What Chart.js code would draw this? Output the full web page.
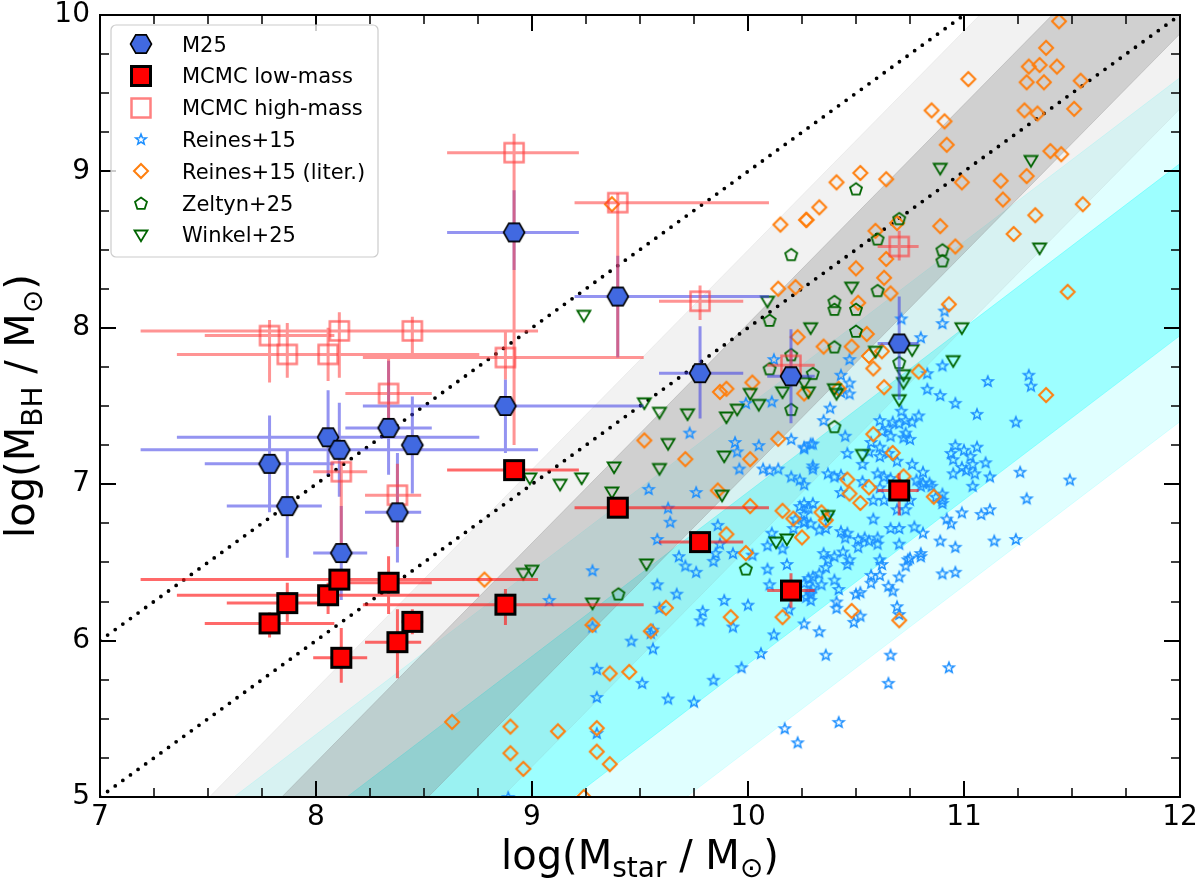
<!DOCTYPE html>
<html><head><meta charset="utf-8">
<script src="https://cdn.jsdelivr.net/npm/chart.js@4.4.1/dist/chart.umd.min.js"></script>
<style>html,body{margin:0;padding:0;background:#fff;}canvas{display:block;}</style>
</head><body>
<canvas id="c" width="1200" height="887"></canvas>
<script>
// ---------------- DATA ----------------
const xMajorTicks = [7, 8, 9, 10, 11, 12];
const xMinorTicks = [7.25, 7.5, 7.75, 8.25, 8.5, 8.75, 9.25, 9.5, 9.75, 10.25, 10.5, 10.75, 11.25, 11.5, 11.75];
const yMajorTicks = [5, 6, 7, 8, 9, 10];
const yMinorTicks = [5.25, 5.5, 5.75, 6.25, 6.5, 6.75, 7.25, 7.5, 7.75, 8.25, 8.5, 8.75, 9.25, 9.5, 9.75];

// 14 galaxies: stellar mass and its errors
const galaxyLogMstar = [7.785, 7.867, 8.056, 8.108, 8.117, 8.336, 8.377, 8.446, 8.877, 8.917, 9.397, 9.778, 10.199, 10.70];
const mstarErrLo     = [0.30, 0.28, 0.70, 0.92, 0.13, 0.20, 0.15, 0.05, 0.66, 0.31, 0.20, 0.19, 0.11, 0.10];
const mstarErrHi     = [0.30, 0.16, 0.70, 0.92, 0.12, 0.20, 0.11, 0.05, 0.64, 0.30, 0.70, 0.20, 0.11, 0.09];

const m25LogMbh = [7.13, 6.86, 7.30, 7.22, 6.56, 7.36, 6.82, 7.25, 7.50, 8.61, 8.20, 7.71, 7.69, 7.90];
const m25ErrLo  = [0.31, 0.33, 0.24, 0.30, 0.30, 0.30, 0.32, 0.31, 0.30, 0.24, 0.39, 0.29, 0.30, 0.36];
const m25ErrHi  = [0.31, 0.36, 0.30, 0.30, 0.30, 0.43, 0.38, 0.31, 0.17, 0.27, 0.26, 0.30, 0.30, 0.30];

const lowMassLogMbh = [6.11, 6.24, 6.29, 6.39, 5.89, 6.37, 5.99, 6.12, 6.23, 7.09, 6.85, 6.63, 6.32, 6.96];
const lowErrLo      = [0.09, 0.12, 0.12, 0.05, 0.16, 0.20, 0.23, 0.08, 0.13, 0.05, 0.05, 0.05, 0.11, 0.16];
const lowErrHi      = [0.07, 0.13, 0.08, 0.05, 0.19, 0.17, 0.21, 0.08, 0.10, 0.05, 0.05, 0.05, 0.11, 0.11];

const highMassLogMbh = [7.95, 7.83, 7.83, 7.98, 7.08, 7.58, 6.93, 7.98, 7.81, 9.12, 8.80, 8.17, 7.76, 8.52];
const highErrLo      = [0.30, 0.15, 0.17, 0.30, 0.50, 0.22, 0.33, 0.16, 0.14, 1.87, 0.98, 0.12, 0.10, 0.09];
const highErrHi      = [0.10, 0.20, 0.17, 0.12, 0.06, 0.22, 0.20, 0.09, 0.16, 0.12, 0.06, 0.10, 0.10, 0.10];

const reines15 = [
[10.71,8.06],[10.90,8.03],[10.80,7.94],[10.47,7.80],[10.90,7.76],[10.83,7.71],[10.43,7.70],[10.47,7.65],[10.43,7.59],[10.47,7.58],
[10.83,7.61],[10.89,7.57],[10.96,7.52],[11.11,7.66],[11.30,7.70],[11.31,7.63],[11.06,7.45],[11.24,7.40],[10.38,7.49],[10.71,7.47],
[10.35,7.41],[10.61,7.41],[10.67,7.40],[10.70,7.39],[10.73,7.41],[10.79,7.44],[10.76,7.40],[10.65,7.36],[10.62,7.34],[10.66,7.31],
[10.73,7.33],[10.75,7.29],[10.72,7.30],[10.45,7.31],[10.30,7.26],[10.26,7.24],[10.57,7.27],[10.61,7.24],[10.56,7.21],[10.65,7.20],
[10.61,7.18],[10.46,7.20],[10.53,7.13],[10.69,7.15],[10.76,7.13],[10.81,7.08],[10.96,7.25],[11.00,7.22],[10.94,7.20],[10.95,7.16],
[11.06,7.24],[11.03,7.18],[11.04,7.13],[11.10,7.14],[10.99,7.11],[11.01,7.09],[10.95,7.07],[11.05,7.07],[11.12,7.05],[11.04,6.99],
[11.26,7.08],[11.49,7.03],[11.29,6.91],[11.14,6.64],[11.24,6.65],[11.12,6.84],[11.08,6.81],[10.99,6.82],[10.92,6.78],[10.94,6.75],
[10.90,6.90],[10.87,6.92],[10.90,6.88],[10.84,7.01],[10.85,6.99],[10.81,7.01],[10.78,7.03],[10.80,6.99],[10.90,6.94],[10.30,7.12],
[10.37,7.07],[10.43,7.06],[10.40,7.05],[10.53,7.02],[10.60,7.07],[10.63,7.05],[10.66,7.04],[10.43,6.95],[10.58,6.90],[10.63,6.90],
[10.75,6.90],[10.73,6.84],[10.69,6.84],[10.61,6.98],[10.26,7.00],[10.26,6.88],[10.26,6.81],[10.26,6.76],[10.37,6.80],[10.36,6.72],
[10.43,6.70],[10.46,6.69],[10.45,6.66],[10.51,6.65],[10.54,6.66],[10.56,6.64],[10.60,6.66],[10.60,6.62],[10.66,6.72],[10.70,6.72],
[10.77,6.73],[10.81,6.69],[10.70,6.62],[10.89,6.64],[10.96,6.60],[10.58,6.78],[10.29,6.75],[10.33,6.71],[10.35,6.56],[10.37,6.52],
[10.40,6.54],[10.36,6.47],[10.33,6.43],[10.30,6.41],[10.26,6.37],[10.34,6.36],[10.40,6.39],[10.44,6.57],[10.47,6.52],[10.46,6.49],
[10.51,6.60],[10.61,6.52],[10.62,6.49],[10.57,6.42],[10.61,6.42],[10.57,6.37],[10.50,6.30],[10.52,6.31],[10.42,6.33],[10.65,6.35],
[10.67,6.32],[10.70,6.41],[10.74,6.52],[10.75,6.53],[10.80,6.56],[10.80,6.54],[10.73,6.48],[10.90,6.43],[10.96,6.44],[10.41,6.25],
[10.41,6.21],[10.49,6.12],[10.52,6.16],[10.69,6.22],[10.70,6.17],[10.26,6.11],[10.33,6.06],[10.36,5.91],[10.66,5.91],[10.93,5.83],
[10.65,5.73],[10.30,6.34],[10.29,6.30],[10.27,6.28],[10.91,8.11],
[10.12,7.80],[10.11,7.53],[9.99,7.52],[9.73,7.33],[9.94,7.27],[9.95,7.21],[10.05,7.25],[9.96,7.10],[10.07,7.10],[10.10,7.09],
[10.14,7.10],[10.20,7.29],[10.26,7.23],[10.29,7.26],[10.20,7.05],[10.24,7.03],[10.30,7.10],[9.76,6.95],[9.54,6.97],[9.63,6.85],
[9.64,6.76],[9.58,6.65],[9.86,6.74],[10.24,6.86],[10.28,6.85],[10.30,6.88],[10.22,6.78],[10.26,6.76],[10.21,6.72],[9.87,6.62],
[9.85,6.56],[9.84,6.51],[9.93,6.56],[9.68,6.54],[9.71,6.48],[9.76,6.44],[10.09,6.61],[10.11,6.69],[10.16,6.59],[10.09,6.46],
[10.18,6.49],[10.28,6.40],[10.29,6.32],[10.29,6.26],[10.10,6.36],[10.02,6.55],[9.28,6.45],[9.58,6.36],[9.67,6.30],[9.08,6.26],
[9.79,6.19],[9.59,6.21],[9.28,6.09],[9.56,6.07],[9.30,5.41],[8.89,5.00],
[9.30,5.82],[9.30,5.64],[9.46,6.00],[9.55,6.05],[9.56,5.95],[9.51,5.73],[9.63,5.63],[9.75,5.61],[9.84,5.75],[9.97,5.83],
[10.06,5.92],[9.93,6.09],[10.12,6.04],[10.17,5.44],[10.23,5.35],[10.42,5.48],[9.78,6.13],[9.89,6.26],[10.00,6.23],[10.19,6.20]
];

const reines15Lit = [
[11.44,9.96],[11.38,9.79],[11.30,9.67],[11.35,9.68],[11.43,9.67],[11.02,9.59],[11.29,9.57],[11.37,9.57],[11.54,9.58],[10.85,9.39],
[10.91,9.32],[11.28,9.39],[11.34,9.37],[11.51,9.40],[10.92,9.17],[11.40,9.13],[11.45,9.11],[10.52,8.99],[10.41,8.93],[10.64,8.95],
[10.99,8.93],[11.17,8.94],[11.29,8.97],[11.18,8.82],[10.33,8.77],[10.27,8.69],[10.69,8.67],[10.59,8.62],[10.89,8.65],[11.55,8.79],
[11.33,8.72],[11.23,8.60],[10.96,8.52],[10.64,8.44],[10.50,8.38],[10.63,8.32],[10.66,8.22],[10.51,8.16],[10.93,8.15],[11.48,8.23],
[10.55,7.96],[11.38,7.57],[10.35,7.88],[10.48,7.88],[10.62,7.85],[10.56,7.82],[10.58,7.74],[10.79,7.72],[10.63,7.62],[10.26,7.58],
[10.42,7.61],[10.58,7.32],[10.67,7.20],[10.46,7.03],[10.56,6.98],[10.47,6.94],[10.52,6.88],[10.72,7.05],[10.86,6.92],[10.34,6.82],
[10.36,6.77],[10.25,6.66],[10.48,6.19],[10.70,6.13],[9.37,8.79],[10.15,8.66],[10.27,8.69],[10.14,8.25],[10.22,8.26],[10.23,7.94],
[10.02,7.65],[9.87,7.59],[9.90,7.61],[9.52,7.28],[9.71,7.16],[10.01,7.16],[10.14,7.29],[9.86,6.96],[10.01,6.86],[10.16,6.83],
[10.21,6.78],[9.90,6.68],[9.99,6.56],[9.62,6.21],[9.92,6.15],[10.16,6.15],[8.78,6.39],[9.28,6.10],[9.55,6.06],[9.36,5.79],
[9.45,5.80],[8.63,5.48],[8.90,5.45],[9.12,5.42],[9.30,5.44],[8.90,5.28],[9.30,5.29],[8.96,5.18],[9.36,5.21],[9.24,5.00]
];

const zeltyn25 = [
[10.50,8.89],[10.70,8.70],[10.60,8.57],[10.90,8.50],[10.90,8.43],[10.60,8.24],[10.40,8.17],[10.40,8.12],[10.50,8.12],[10.50,7.98],
[10.40,7.88],[10.70,7.78],[10.30,7.71],[10.40,7.37],[10.20,8.47],[10.10,8.05],[10.10,7.74],[10.20,7.83],[10.20,7.48],[9.40,6.30],[9.99,6.46]
];

const winkel25 = [
[9.24,8.08],[10.09,8.17],[10.29,8.00],[9.52,7.52],[9.59,7.46],[9.72,7.45],[9.90,7.43],[9.95,7.48],[10.01,7.58],[10.05,7.51],
[10.16,7.59],[10.28,7.59],[10.26,7.65],[9.63,7.26],[9.59,7.10],[9.89,7.18],[9.38,7.11],[9.23,7.04],[9.13,7.00],[8.99,7.04],
[9.37,6.95],[9.88,6.93],[9.53,6.49],[10.13,6.63],[10.18,6.65],[8.96,6.43],[9.00,6.45],[9.28,6.24],[10.89,9.02],[11.31,9.07],
[10.48,8.26],[10.99,8.00],[11.35,8.51],[10.76,7.86],[10.59,7.85],[10.95,7.79],[10.72,7.70],[10.72,7.65],[10.40,7.61],[10.41,7.58],
[10.70,7.54],[10.53,7.19],[10.37,6.80]
];

// Relation bands (edges read at x = 7 and x = 12)
const bandX = [7, 12];
const cyanOuterUp = [4.35, 9.60];
const cyanOuterLo = [2.15, 7.40];
const cyanInnerUp = [3.80, 9.05];
const cyanInnerLo = [2.70, 7.95];
const grayOuterUp = [4.29, 11.30];
const grayOuterLo = [2.39, 9.40];
const grayInnerUp = [3.82, 10.83];
const grayInnerLo = [2.87, 9.88];
const dottedUpperX = [7, 12], dottedUpperY = [6, 11];
const dottedLowerX = [7, 12], dottedLowerY = [5, 10];

// ---------------- MARKERS ----------------
function mk(w, h, draw) {
  const c = document.createElement('canvas'); c.width = w; c.height = h;
  const g = c.getContext('2d'); g.lineJoin = 'miter'; draw(g, w / 2, h / 2); return c;
}
function poly(g, pts) { g.beginPath(); pts.forEach((p, i) => i ? g.lineTo(p[0], p[1]) : g.moveTo(p[0], p[1])); g.closePath(); }
const hexImg = mk(26, 24, (g, cx, cy) => {
  const r = 10.5, pts = [];
  for (let k = 0; k < 6; k++) { const a = k * Math.PI / 3; pts.push([cx + r * Math.cos(a), cy + r * Math.sin(a)]); }
  poly(g, pts); g.fillStyle = '#4169e1'; g.fill(); g.lineWidth = 1.6; g.strokeStyle = '#000'; g.stroke();
});
const lowSqImg = mk(26, 26, (g, cx, cy) => {
  g.fillStyle = '#ff0000'; g.fillRect(cx - 9.5, cy - 9.5, 19, 19);
  g.lineWidth = 3; g.strokeStyle = '#000'; g.strokeRect(cx - 9.5, cy - 9.5, 19, 19);
});
const highSqImg = mk(26, 26, (g, cx, cy) => {
  g.lineWidth = 2.5; g.strokeStyle = 'rgba(255,60,60,0.65)'; g.strokeRect(cx - 9.5, cy - 9.5, 19, 19);
});
const starImg = mk(16, 16, (g, cx, cy) => {
  const pts = [];
  for (let k = 0; k < 10; k++) { const r = k % 2 ? 2.4 : 5.6; const a = -Math.PI / 2 + k * Math.PI / 5; pts.push([cx + r * Math.cos(a), cy + 0.6 + r * Math.sin(a)]); }
  poly(g, pts); g.lineWidth = 1.5; g.strokeStyle = '#1e90ff'; g.stroke();
});
const diamondImg = mk(20, 20, (g, cx, cy) => {
  poly(g, [[cx, cy - 7], [cx + 7, cy], [cx, cy + 7], [cx - 7, cy]]);
  g.lineWidth = 2; g.strokeStyle = '#ff7f0e'; g.stroke();
});
const pentImg = mk(18, 18, (g, cx, cy) => {
  const pts = [];
  for (let k = 0; k < 5; k++) { const a = -Math.PI / 2 + k * 2 * Math.PI / 5; pts.push([cx + 6.3 * Math.cos(a), cy + 0.8 + 6.3 * Math.sin(a)]); }
  poly(g, pts); g.lineWidth = 1.8; g.strokeStyle = '#006400'; g.stroke();
});
const triImg = mk(18, 18, (g, cx, cy) => {
  poly(g, [[cx - 6.5, cy - 4.5], [cx + 6.5, cy - 4.5], [cx, cy + 6.2]]);
  g.lineWidth = 1.8; g.strokeStyle = '#006400'; g.stroke();
});

// ---------------- DATASETS ----------------
const toPts = (xs, ys) => xs.map((x, i) => ({ x: x, y: ys[i] }));
const pairPts = arr => arr.map(p => ({ x: p[0], y: p[1] }));
function band(up, lo, color, order) {
  return [
    { type: 'line', data: toPts(bandX, up), borderColor: color, borderWidth: 1, pointRadius: 0, fill: false, tension: 0, order: order },
    { type: 'line', data: toPts(bandX, lo), borderColor: color, borderWidth: 1, pointRadius: 0, fill: '-1', backgroundColor: color, tension: 0, order: order }
  ];
}
function errSegs(xs, ys, xlo, xhi, ylo, yhi) {
  const pts = [];
  xs.forEach((x, i) => {
    const y = ys[i];
    pts.push({ x: x - xlo[i], y: y }, { x: x + xhi[i], y: y }, { x: x, y: null });
    pts.push({ x: x, y: y - ylo[i] }, { x: x, y: y + yhi[i] }, { x: x, y: null });
  });
  return pts;
}
function errDs(data, color, order) {
  return { type: 'line', data: data, borderColor: color, borderWidth: 3, pointRadius: 0, fill: false, spanGaps: false, tension: 0, order: order, borderCapStyle: 'butt' };
}
function markDs(label, data, img, order) {
  return { type: 'scatter', label: label, data: data, pointStyle: img, pointRadius: 5, showLine: false, order: order, legendImg: img };
}

const datasets = [].concat(
  band(cyanOuterUp, cyanOuterLo, 'rgba(0,255,255,0.12)', 100),
  band(cyanInnerUp, cyanInnerLo, 'rgba(0,255,255,0.30)', 99),
  band(grayOuterUp, grayOuterLo, 'rgba(128,128,128,0.10)', 98),
  band(grayInnerUp, grayInnerLo, 'rgba(128,128,128,0.30)', 97),
  [
    { type: 'line', data: toPts(dottedUpperX, dottedUpperY), borderColor: '#000', borderWidth: 3.8, borderDash: [0, 9.4], borderCapStyle: 'round', pointRadius: 0, fill: false, order: 96 },
    { type: 'line', data: toPts(dottedLowerX, dottedLowerY), borderColor: '#000', borderWidth: 3.8, borderDash: [0, 9.4], borderCapStyle: 'round', pointRadius: 0, fill: false, order: 96 },
    markDs('Reines+15', pairPts(reines15), starImg, 60),
    markDs('Reines+15 (liter.)', pairPts(reines15Lit), diamondImg, 59),
    markDs('Zeltyn+25', pairPts(zeltyn25), pentImg, 58),
    markDs('Winkel+25', pairPts(winkel25), triImg, 57),
    errDs(errSegs(galaxyLogMstar, m25LogMbh, mstarErrLo, mstarErrHi, m25ErrLo, m25ErrHi), 'rgba(60,60,230,0.55)', 40),
    errDs(errSegs(galaxyLogMstar, lowMassLogMbh, mstarErrLo, mstarErrHi, lowErrLo, lowErrHi), 'rgba(255,25,25,0.65)', 39),
    errDs(errSegs(galaxyLogMstar, highMassLogMbh, mstarErrLo, mstarErrHi, highErrLo, highErrHi), 'rgba(255,60,60,0.55)', 38),
    markDs('MCMC high-mass', toPts(galaxyLogMstar, highMassLogMbh), highSqImg, 30),
    markDs('M25', toPts(galaxyLogMstar, m25LogMbh), hexImg, 20),
    markDs('MCMC low-mass', toPts(galaxyLogMstar, lowMassLogMbh), lowSqImg, 10)
  ]
);
const legendOrder = ['M25', 'MCMC low-mass', 'MCMC high-mass', 'Reines+15', 'Reines+15 (liter.)', 'Zeltyn+25', 'Winkel+25'];

// ---------------- DECORATION PLUGIN ----------------
const FONT = '"DejaVu Sans", sans-serif';
function drawRich(ctx, parts, mainSize, subSize, shift) {
  let w = 0;
  parts.forEach(p => { ctx.font = (p[1] ? subSize : mainSize) + 'px ' + FONT; p.w = ctx.measureText(p[0]).width; w += p.w; });
  let x = -w / 2;
  parts.forEach(p => { ctx.font = (p[1] ? subSize : mainSize) + 'px ' + FONT; ctx.fillText(p[0], x, p[1] ? shift : 0); x += p.w; });
}
const decor = {
  id: 'decor',
  afterDatasetsDraw(chart) {
    const ctx = chart.ctx, a = chart.chartArea, xs = chart.scales.x, ys = chart.scales.y;
    ctx.save();
    ctx.strokeStyle = '#000';
    const tick = (vals, len, lw, isX) => {
      ctx.lineWidth = lw; ctx.beginPath();
      vals.forEach(v => {
        if (isX) { const p = Math.round(xs.getPixelForValue(v)); ctx.moveTo(p, a.bottom); ctx.lineTo(p, a.bottom - len); ctx.moveTo(p, a.top); ctx.lineTo(p, a.top + len); }
        else { const p = Math.round(ys.getPixelForValue(v)); ctx.moveTo(a.left, p); ctx.lineTo(a.left + len, p); ctx.moveTo(a.right, p); ctx.lineTo(a.right - len, p); }
      });
      ctx.stroke();
    };
    tick(xMajorTicks, 16, 2, true); tick(xMinorTicks, 9, 1.5, true);
    tick(yMajorTicks, 16, 2, false); tick(yMinorTicks, 9, 1.5, false);
    ctx.lineWidth = 2;
    ctx.strokeRect(a.left, a.top, a.right - a.left, a.bottom - a.top);

    // legend
    const L = a.left + 11, T = a.top + 10, W = 267, H = 232, R = 5;
    ctx.beginPath();
    ctx.moveTo(L + R, T); ctx.arcTo(L + W, T, L + W, T + H, R); ctx.arcTo(L + W, T + H, L, T + H, R);
    ctx.arcTo(L, T + H, L, T, R); ctx.arcTo(L, T, L + W, T, R); ctx.closePath();
    ctx.fillStyle = 'rgba(255,255,255,0.8)'; ctx.fill();
    ctx.lineWidth = 1.2; ctx.strokeStyle = '#cccccc'; ctx.stroke();
    ctx.fillStyle = '#000'; ctx.font = '21px ' + FONT; ctx.textBaseline = 'alphabetic'; ctx.textAlign = 'left';
    legendOrder.forEach((lab, i) => {
      const ds = chart.data.datasets.find(d => d.label === lab);
      const cy = a.top + 29 + i * 31.8;
      const img = ds.legendImg;
      ctx.drawImage(img, Math.round(a.left + 41 - img.width / 2), Math.round(cy - img.height / 2));
      ctx.fillText(ds.label, a.left + 82, cy + 7.6);
    });
    ctx.restore();
  },
  afterDraw(chart) {
    const ctx = chart.ctx, a = chart.chartArea;
    ctx.save(); ctx.fillStyle = '#000'; ctx.textBaseline = 'alphabetic'; ctx.textAlign = 'left';
    ctx.translate((a.left + a.right) / 2, 869);
    drawRich(ctx, [['log(M', 0], ['star', 1], [' / M', 0], ['⊙', 1], [')', 0]], 40, 28, 8);
    ctx.restore();
    ctx.save(); ctx.fillStyle = '#000'; ctx.textBaseline = 'alphabetic'; ctx.textAlign = 'left';
    ctx.translate(34, (a.top + a.bottom) / 2); ctx.rotate(-Math.PI / 2);
    drawRich(ctx, [['log(M', 0], ['BH', 1], [' / M', 0], ['⊙', 1], [')', 0]], 40, 28, 8);
    ctx.restore();
  }
};

Chart.defaults.font.family = FONT;
new Chart(document.getElementById('c'), {
  type: 'scatter',
  data: { datasets: datasets },
  options: {
    responsive: false, animation: false, devicePixelRatio: 1, events: [],
    layout: { padding: { top: 15, right: 20, left: 0, bottom: 0 } },
    plugins: { legend: { display: false }, tooltip: { enabled: false } },
    scales: {
      x: {
        type: 'linear', min: 7, max: 12,
        grid: { display: false, drawTicks: false }, border: { display: false },
        ticks: { stepSize: 1, autoSkip: false, maxRotation: 0, padding: 7, color: '#000', font: { size: 28, lineHeight: 1 } },
        afterFit(s) { s.height = 90; s.paddingLeft = 0; s.paddingRight = 0; }
      },
      y: {
        type: 'linear', min: 5, max: 10,
        grid: { display: false, drawTicks: false }, border: { display: false },
        ticks: { stepSize: 1, autoSkip: false, padding: 10, color: '#000', font: { size: 28, lineHeight: 1 } },
        afterFit(s) { s.width = 100; s.paddingTop = 0; s.paddingBottom = 0; }
      }
    }
  },
  plugins: [decor]
});
</script>
</body></html>
